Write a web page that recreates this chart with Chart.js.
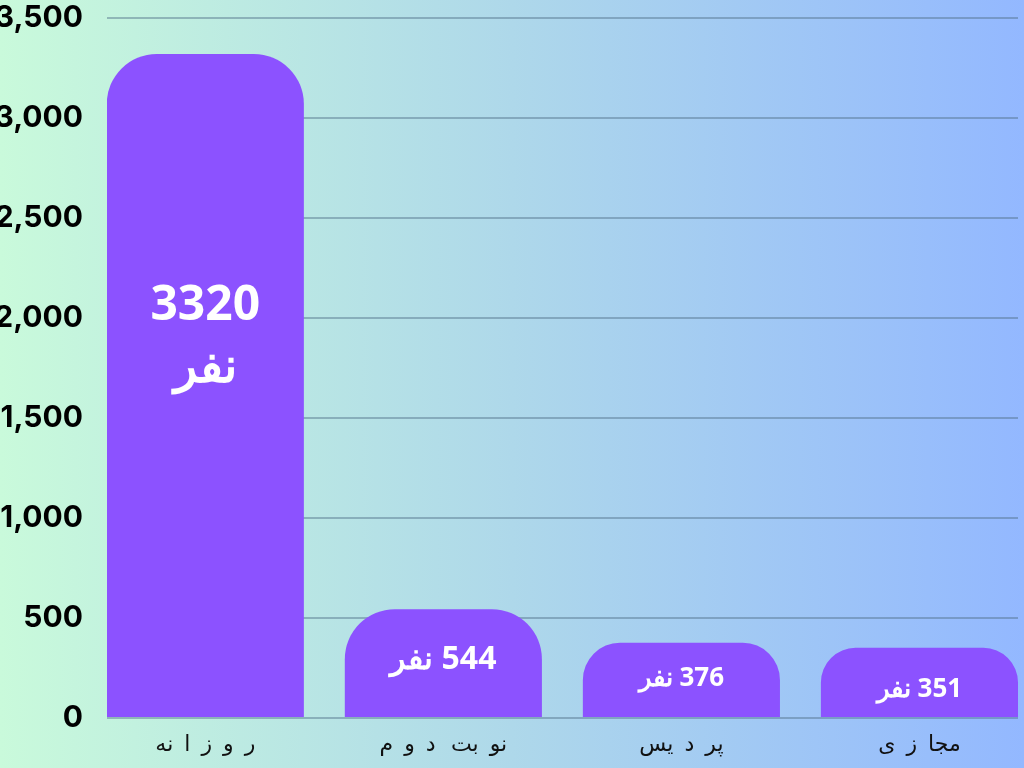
<!DOCTYPE html>
<html>
<head>
<meta charset="utf-8">
<script src="https://cdn.jsdelivr.net/npm/chart.js@4.4.1/dist/chart.umd.min.js"></script>
<style>
  html, body { margin: 0; padding: 0; overflow: hidden; }
  body { width: 1024px; height: 768px; background: linear-gradient(to right, #c9fadb 0%, #aed8ea 50%, #93b8ff 100%); }
  #wrap { position: relative; width: 1024px; height: 768px; }
</style>
</head>
<body>
<div id="wrap"><canvas id="bar_chart"></canvas></div>
<script>
// data
var categories = ["روزانه", "نوبت دوم", "پردیس", "مجازی"];
var students = [3320, 544, 376, 351];
var unit = "نفر";
var yTicks = [0, 500, 1000, 1500, 2000, 2500, 3000, 3500];

// label styling per bar (size in px, offset of text centre below bar top)
var labelSize = [48, 32, 26, 26];
var labelOffset = [252, 51, 36, 42];

// letters that never join to the following letter
var nonJoining = "اآأإدذرزژوؤ";

function spacedText(ctx, text, cx, cy, gap) {
    // split after non-joining letters so shaping stays intact
    var parts = [], extra = [], cur = "";
    for (var k = 0; k < text.length; k++) {
        var ch = text[k];
        if (ch === ' ') {
            if (cur) { parts.push(cur); extra.push(0); cur = ""; }
            extra[extra.length - 1] = gap * 0.4;
            continue;
        }
        cur += ch;
        if (nonJoining.indexOf(ch) >= 0) { parts.push(cur); extra.push(0); cur = ""; }
    }
    if (cur) { parts.push(cur); extra.push(0); }
    var widths = parts.map(function (p) { return ctx.measureText(p).width; });
    var total = 0;
    widths.forEach(function (w, i) { total += w + (i < parts.length - 1 ? gap + extra[i] : 0); });
    var x = cx + total / 2;
    ctx.textAlign = 'right';
    parts.forEach(function (p, i) {
        ctx.fillText(p, x, cy);
        x -= widths[i] + gap + extra[i];
    });
}

var barLabels = {
    id: 'barLabels',
    afterDatasetsDraw: function (chart) {
        var ctx = chart.ctx;
        var meta = chart.getDatasetMeta(0);
        ctx.save();
        ctx.fillStyle = '#ffffff';
        ctx.textAlign = 'center';
        ctx.textBaseline = 'middle';
        ctx.direction = 'rtl';
        meta.data.forEach(function (bar, i) {
            ctx.font = 'bold ' + labelSize[i] + 'px "Open Sans", "Noto Sans", sans-serif';
            var y = bar.y + labelOffset[i];
            if (i === 0) {
                ctx.fillText(String(students[i]), bar.x, y);
                ctx.fillText(unit, bar.x, y + 62);
            } else {
                ctx.fillText(students[i] + ' ' + unit, bar.x, y);
            }
        });
        ctx.restore();
    }
};

var categoryLabels = {
    id: 'categoryLabels',
    afterDraw: function (chart) {
        var ctx = chart.ctx;
        var xs = chart.scales.x;
        ctx.save();
        ctx.fillStyle = '#111111';
        ctx.font = '22px "DejaVu Sans", sans-serif';
        ctx.textBaseline = 'middle';
        ctx.direction = 'rtl';
        categories.forEach(function (c, i) {
            spacedText(ctx, c, xs.getPixelForValue(i), 745, 11);
        });
        ctx.restore();
    }
};

new Chart(document.getElementById("bar_chart").getContext("2d"), {
    type: 'bar',
    data: {
        datasets: [{
            label: 'students',
            data: students.map(function (v, i) { return { x: i, y: v }; }),
            backgroundColor: '#8c52ff',
            borderRadius: { topLeft: 50, topRight: 50 },
            borderSkipped: 'bottom',
            categoryPercentage: 1,
            barPercentage: 0.828
        }]
    },
    options: {
        responsive: true,
        maintainAspectRatio: false,
        animation: false,
        layout: { padding: { top: 18, right: 6, bottom: 50, left: 0 } },
        plugins: { legend: { display: false }, tooltip: { enabled: false } },
        scales: {
            x: {
                type: 'linear',
                display: false,
                offset: false,
                min: -0.413,
                max: 3.414,
                ticks: { stepSize: 1, includeBounds: false }
            },
            y: {
                min: 0,
                max: 3500,
                afterBuildTicks: function (scale) {
                    scale.ticks = yTicks.map(function (v) { return { value: v }; });
                },
                afterFit: function (scale) {
                    scale.width = 107;
                    scale.paddingTop = 0;
                    scale.paddingBottom = 0;
                },
                grid: { color: 'rgba(80,110,135,0.45)', lineWidth: 2, drawTicks: false },
                border: { display: false },
                ticks: {
                    padding: 24,
                    color: '#000000',
                    font: { family: 'Inter', size: 30, weight: '700' },
                    callback: function (v) { return v.toLocaleString('en-US'); }
                }
            }
        }
    },
    plugins: [barLabels, categoryLabels]
});
</script>
</body>
</html>
